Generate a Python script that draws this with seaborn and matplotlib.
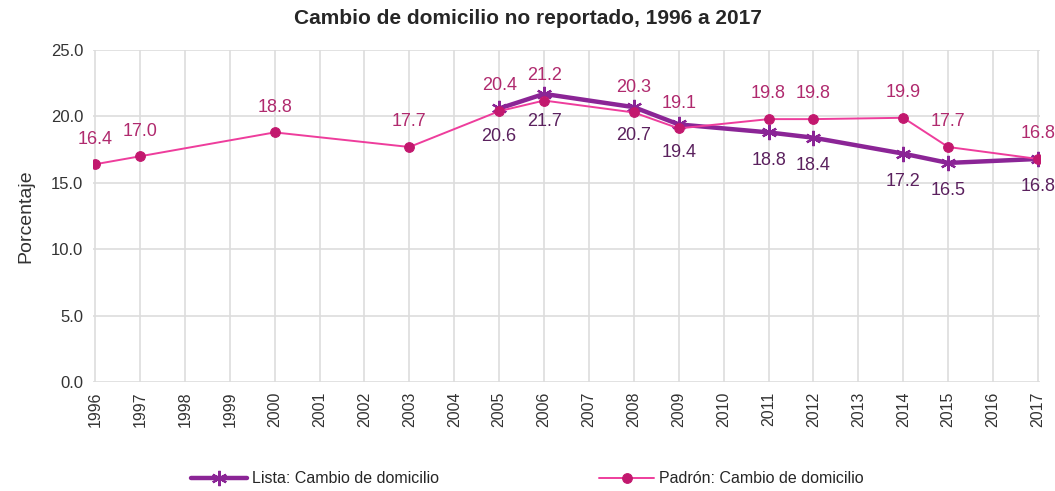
import numpy as np
import pandas as pd
import matplotlib
matplotlib.use("Agg")
import matplotlib.pyplot as plt
import seaborn as sns

# categorias (eje x)
years = [str(y) for y in range(1996, 2018)]

# Lista: Cambio de domicilio
lista_years = ["2005", "2006", "2008", "2009", "2011", "2012", "2014", "2015", "2017"]
lista_vals = [20.6, 21.7, 20.7, 19.4, 18.8, 18.4, 17.2, 16.5, 16.8]

# Padron: Cambio de domicilio
padron_years = ["1996", "1997", "2000", "2003", "2005", "2006", "2008", "2009",
                "2011", "2012", "2014", "2015", "2017"]
padron_vals = [16.4, 17.0, 18.8, 17.7, 20.4, 21.2, 20.3, 19.1, 19.8, 19.8, 19.9, 17.7, 16.8]

yticks = [0, 5, 10, 15, 20, 25]

lista_color = "#8B2596"
padron_line = "#EE3D9C"
padron_marker = "#C2186E"
padron_label = "#B02A6E"
lista_label = "#5B215E"

sns.set_style("white")
plt.rcParams['font.family'] = ['Liberation Sans', 'DejaVu Sans']

df_l = pd.DataFrame({"x": [years.index(y) for y in lista_years], "v": lista_vals})
df_p = pd.DataFrame({"x": [years.index(y) for y in padron_years], "v": padron_vals})

fig = plt.figure(figsize=(10.55, 4.91), dpi=100)
ax = fig.add_axes([0.088, 0.222, 0.898, 0.676])

sns.lineplot(data=df_l, x="x", y="v", ax=ax, color=lista_color, linewidth=3.2,
             marker=(6, 2, 0), markersize=11, markeredgewidth=1.6, markeredgecolor=lista_color,
             label="Lista: Cambio de domicilio", legend=False, zorder=3)
sns.lineplot(data=df_p, x="x", y="v", ax=ax, color=padron_line, linewidth=1.4,
             marker="o", markersize=7, markerfacecolor=padron_marker, markeredgecolor=padron_marker,
             label="Padrón: Cambio de domicilio", legend=False, zorder=4)

for x, v in zip(df_p["x"], df_p["v"]):
    ax.annotate(f"{v:.1f}", (x, v), xytext=(0, 12), textcoords="offset points",
                ha="center", va="bottom", fontsize=13, color=padron_label)
for x, v in zip(df_l["x"], df_l["v"]):
    ax.annotate(f"{v:.1f}", (x, v), xytext=(0, -14), textcoords="offset points",
                ha="center", va="top", fontsize=13, color=lista_label)

ax.set_xlim(-0.05, len(years) - 1 + 0.05)
ax.set_ylim(0, 25)
ax.set_xticks(range(len(years)))
ax.set_xticklabels(years, rotation=90, fontsize=11.5, color="#333333")
ax.set_yticks(yticks)
ax.set_yticklabels([f"{t:.1f}" for t in yticks], fontsize=12, color="#333333")
ax.grid(True, color="#dddddd", linewidth=1.2)
for s in ax.spines.values():
    s.set_visible(False)
ax.tick_params(length=0, pad=7)
ax.set_xlabel("")
ax.set_ylabel("Porcentaje", fontsize=14, color="#333333", labelpad=12)

fig.suptitle("Cambio de domicilio no reportado, 1996 a 2017", fontsize=15,
             fontweight="bold", x=0.5, y=0.982)

handles, labels = ax.get_legend_handles_labels()
fig.legend(handles, labels, loc="lower center", ncol=2, frameon=False, fontsize=11.5,
           bbox_to_anchor=(0.5, -0.02), columnspacing=10, handlelength=3.5, handletextpad=0.3)

fig.savefig("out.png", dpi=100)
